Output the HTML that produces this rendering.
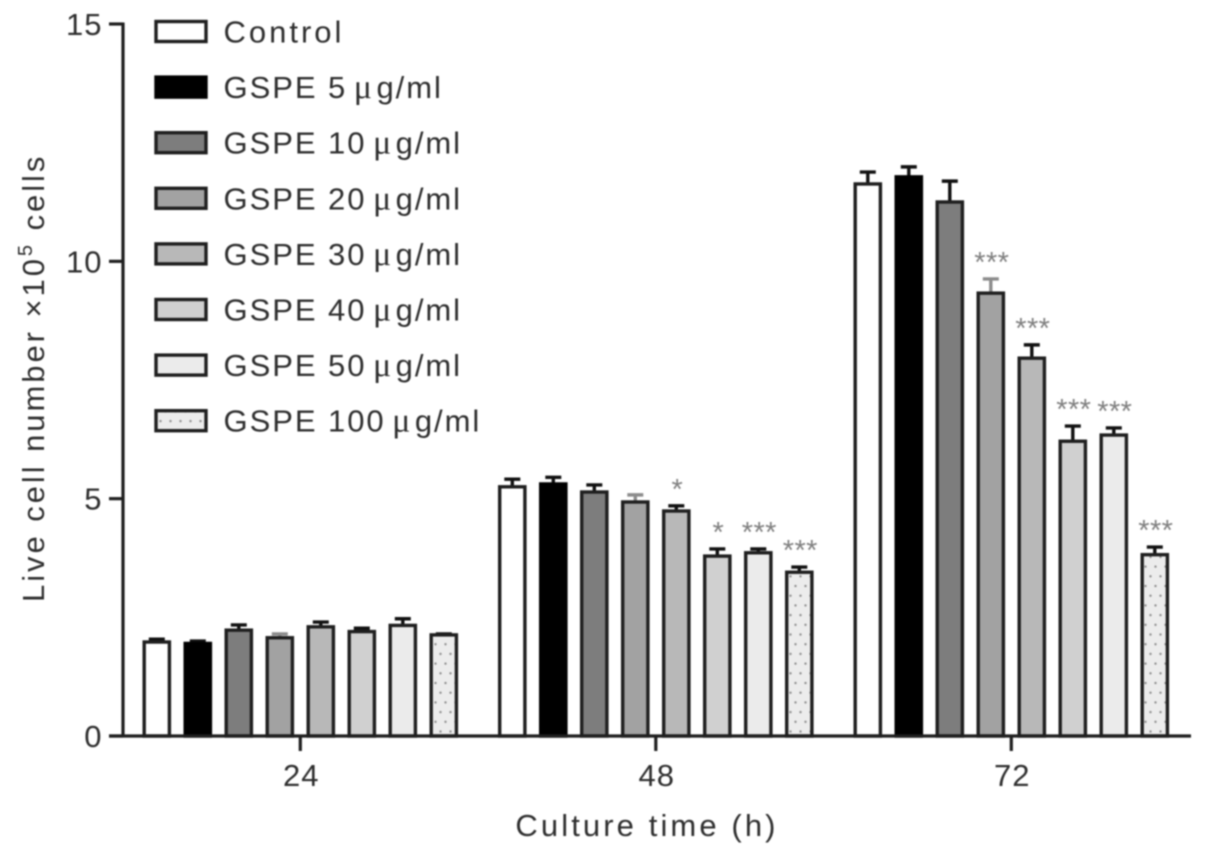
<!DOCTYPE html>
<html>
<head>
<meta charset="utf-8">
<title>Live cell number by culture time</title>
<style>
html,body{margin:0;padding:0;background:#fff;}
svg{display:block;filter:blur(0.7px);}
text{font-family:"Liberation Sans",sans-serif;fill:#2e2e2e;}
.mu{font-family:"Liberation Serif",serif;font-size:34px;}
.leg{font-size:31px;letter-spacing:1.95px;}
.leg-control{font-size:31px;letter-spacing:3px;}
.tick{font-size:31px;letter-spacing:1px;}
.title{font-size:31px;letter-spacing:2.95px;}
.title-x{font-size:31px;letter-spacing:3.1px;}
.sig{font-size:29px;fill:#808080;letter-spacing:0.4px;}
</style>
</head>
<body>
<svg id="chart" xmlns="http://www.w3.org/2000/svg" width="1205" height="856" viewBox="0 0 1205 856">
<defs>
<pattern id="dots" width="10" height="19.4" patternUnits="userSpaceOnUse" x="3" y="0">
<rect width="10" height="19.4" fill="#ececec"/>
<circle cx="2.5" cy="4" r="1.2" fill="#8c8c8c"/>
<circle cx="7.5" cy="13.7" r="1.2" fill="#8c8c8c"/>
</pattern>
</defs>
<rect width="1205" height="856" fill="#ffffff"/>
<g id="bars"></g>
<g id="axes"></g>
<g id="legend"></g>
<text class="title-x" x="647" y="836" text-anchor="middle">Culture time (h)</text>
<text class="title" transform="translate(44,602) rotate(-90)">Live cell number ×10<tspan font-size="20" dy="-12">5</tspan><tspan dy="12"> cells</tspan></text>
</svg>
<script>
const categories = ['24', '48', '72'];
const seriesNames = ['Control', 'GSPE 5', 'GSPE 10', 'GSPE 20', 'GSPE 30', 'GSPE 40', 'GSPE 50', 'GSPE 100'];
const yTicks = [0, 5, 10, 15];
const values24 = [1.98, 1.95, 2.23, 2.07, 2.30, 2.20, 2.33, 2.13];
const values48 = [5.25, 5.31, 5.14, 4.93, 4.74, 3.79, 3.86, 3.45];
const values72 = [11.63, 11.78, 11.25, 9.33, 7.96, 6.21, 6.34, 3.82];
const errors24 = [0.06, 0.05, 0.11, 0.08, 0.10, 0.07, 0.14, 0.02];
const errors48 = [0.16, 0.14, 0.15, 0.15, 0.11, 0.15, 0.08, 0.11];
const errors72 = [0.25, 0.21, 0.44, 0.30, 0.28, 0.32, 0.15, 0.16];
const sig24 = ['', '', '', '', '', '', '', ''];
const sig48 = ['', '', '', '', '*', '*', '***', '***'];
const sig72 = ['', '', '', '***', '***', '***', '***', '***'];

const allValues = [values24, values48, values72];
const allErrors = [errors24, errors48, errors72];
const allSig = [sig24, sig48, sig72];
const fills = ['#ffffff', '#000000', '#7d7d7d', '#a2a2a2', '#b8b8b8', '#d0d0d0', '#ebebeb', 'url(#dots)'];

const NS = 'http://www.w3.org/2000/svg';
const y0 = 736, yTop = 24, yMax = 15;
function yScale(v) { return y0 - v / yMax * (y0 - yTop); }
function groupCenter(i) { return 300.3 + i * 355.5; }
function barCenter(g, s) { return groupCenter(g) + (s - 3.5) * 41; }
function mk(parent, tag, attrs, text) {
  const el = document.createElementNS(NS, tag);
  for (const k in attrs) el.setAttribute(k, attrs[k]);
  if (text !== undefined) el.textContent = text;
  parent.appendChild(el);
  return el;
}

const barsG = document.getElementById('bars');
const axesG = document.getElementById('axes');
const legendG = document.getElementById('legend');
const ink = '#1f1f1f';

categories.forEach(function (cat, g) {
  seriesNames.forEach(function (name, s) {
    const cx = barCenter(g, s);
    const v = allValues[g][s];
    const e = allErrors[g][s];
    const top = yScale(v);
    const cap = yScale(v + e);
    const errColor = s === 3 ? '#8c8c8c' : '#111111';
    const stem = mk(barsG, 'line', { x1: cx, x2: cx, y1: top, y2: cap, stroke: errColor, 'stroke-width': 3.4 });
    
    
    const capLine = mk(barsG, 'line', { x1: cx - 8, x2: cx + 8, y1: cap, y2: cap, stroke: errColor, 'stroke-width': 3.4 });
    
    
    const bar = mk(barsG, 'rect', { x: cx - 12.6, y: top, width: 25.2, height: y0 - top, fill: fills[s], stroke: s === 1 ? '#000' : ink, 'stroke-width': 3.4 });
    
    
    if (allSig[g][s]) {
      const star = mk(barsG, 'text', { x: cx + 1, y: cap - 7, 'text-anchor': 'middle', class: 'sig' }, allSig[g][s]);
      
      
    }
  });
});

const yAxis = mk(axesG, 'line', { x1: 123, x2: 123, y1: yTop - 1.5, y2: y0 + 1.5, stroke: ink, 'stroke-width': 3.2 });


const xAxis = mk(axesG, 'line', { x1: 109, x2: 1191, y1: y0, y2: y0, stroke: ink, 'stroke-width': 3.2 });



yTicks.forEach(function (t) {
  const py = yScale(t);
  const tick = mk(axesG, 'line', { x1: 109, x2: 123, y1: py, y2: py, stroke: ink, 'stroke-width': 3.2 });
  
  
  const label = mk(axesG, 'text', { x: 102.5, y: py + 11, 'text-anchor': 'end', class: 'tick' }, String(t));
  
  
});

categories.forEach(function (cat, g) {
  const px = groupCenter(g);
  const tick = mk(axesG, 'line', { x1: px, x2: px, y1: y0, y2: y0 + 15, stroke: ink, 'stroke-width': 3.2 });
  
  
  const label = mk(axesG, 'text', { x: px + 1, y: 786, 'text-anchor': 'middle', class: 'tick' }, cat);
  
  
});

seriesNames.forEach(function (name, s) {
  const cy = 31.5 + s * 55.6;
  const swatch = mk(legendG, 'rect', { x: 156, y: cy - 10, width: 50, height: 20, fill: fills[s], stroke: s === 1 ? '#000' : ink, 'stroke-width': 3.4 });
  
  
  const label = mk(legendG, 'text', { x: 223.5, y: cy + 11, class: s === 0 ? 'leg-control' : 'leg' });
  
  
  if (s === 0) {
    label.textContent = name;
  } else {
    mk(label, 'tspan', {}, name + ' ');
    mk(label, 'tspan', { class: 'mu', dx: -4 }, 'μ');
    mk(label, 'tspan', { dx: 2.5 }, 'g/ml');
  }
});
</script>
</body>
</html>
